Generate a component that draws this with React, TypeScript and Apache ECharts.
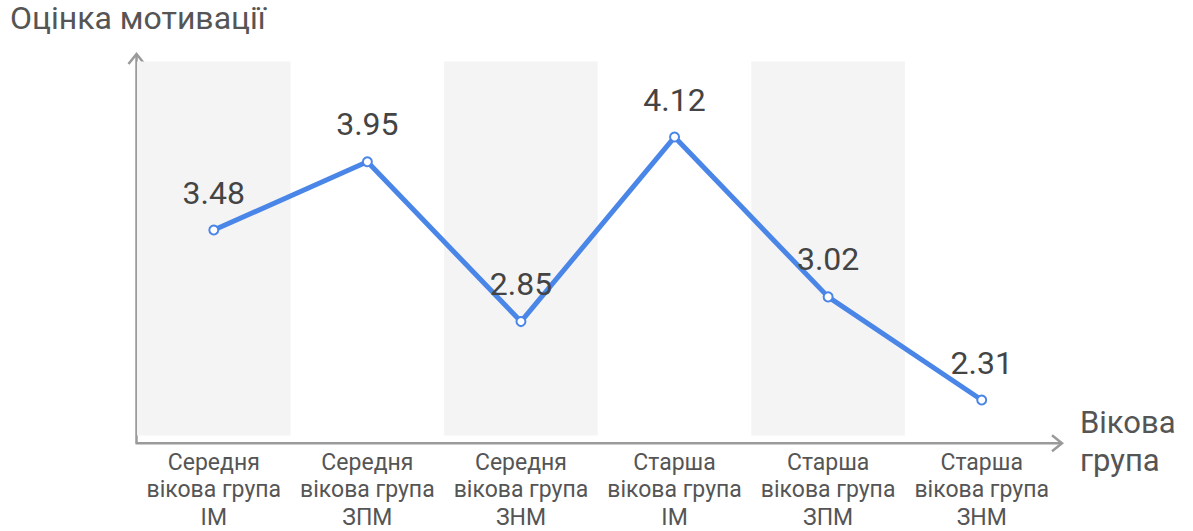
import React, { useEffect, useRef } from "react";
import * as echarts from "echarts";

const categories = [
  "Середня\nвікова група\nІМ",
  "Середня\nвікова група\nЗПМ",
  "Середня\nвікова група\nЗНМ",
  "Старша\nвікова група\nІМ",
  "Старша\nвікова група\nЗПМ",
  "Старша\nвікова група\nЗНМ",
];
const motivationScores = [3.48, 3.95, 2.85, 4.12, 3.02, 2.31];
const yAxisTitle = "Оцінка мотивації";
const xAxisTitle = "Вікова\nгрупа";

export default function App() {
  const ref = useRef<HTMLDivElement>(null);
  useEffect(() => {
    document.body.style.margin = "0";
    if (!ref.current) return;
    const chart = echarts.init(ref.current, undefined, { renderer: "svg" });
    const font = "Roboto, 'Noto Sans', sans-serif";
    const axisColor = "#9a9a9a";
    chart.setOption({
      animation: false,
      textStyle: { fontFamily: font },
      grid: { left: 137, top: 61.5, right: 134.5, bottom: 89, containLabel: false },
      xAxis: {
        type: "category",
        data: categories,
        boundaryGap: true,
        axisLine: { show: false },
        axisTick: { show: false },
        splitArea: { show: true, areaStyle: { color: ["#f4f4f4", "rgba(255,255,255,0)"] } },
        axisLabel: {
          color: "#555",
          fontSize: 23,
          lineHeight: 27.5,
          margin: 13,
          interval: 0,
          fontFamily: font,
        },
      },
      yAxis: {
        type: "value",
        min: 2.066,
        max: 4.64,
        axisLine: { show: false },
        axisTick: { show: false },
        axisLabel: { show: false },
        splitLine: { show: false },
      },
      graphic: [
        {
          type: "text",
          left: 10,
          top: 2,
          style: { text: yAxisTitle, fontSize: 32, fill: "#555", fontFamily: font },
        },
        {
          type: "text",
          left: 1080,
          top: 403,
          style: { text: xAxisTitle, fontSize: 31, lineHeight: 38, fill: "#555", fontFamily: font },
        },
        { type: "line", shape: { x1: 136.5, y1: 443.3, x2: 136.5, y2: 54 }, style: { stroke: axisColor, lineWidth: 2.5 } },
        { type: "line", shape: { x1: 135.5, y1: 443.3, x2: 1062, y2: 443.3 }, style: { stroke: axisColor, lineWidth: 2.5 } },
        {
          type: "polyline",
          shape: { points: [[128.5, 64], [136.5, 54], [144.5, 64]] },
          style: { stroke: axisColor, lineWidth: 2.5, fill: "none" },
        },
        {
          type: "polyline",
          shape: { points: [[1052, 435.3], [1062, 443.3], [1052, 451.3]] },
          style: { stroke: axisColor, lineWidth: 2.5, fill: "none" },
        },
      ],
      series: [
        {
          type: "line",
          data: motivationScores,
          symbol: "emptyCircle",
          symbolSize: 9,
          lineStyle: { color: "#4a86e8", width: 5 },
          itemStyle: { color: "#4a86e8", borderWidth: 2.5, borderColor: "#4a86e8" },
          label: {
            show: true,
            position: "top",
            distance: 16,
            fontSize: 32,
            color: "#444",
            fontFamily: font,
          },
          z: 3,
        },
      ],
    });
    return () => chart.dispose();
  }, []);
  return <div ref={ref} style={{ width: 1193, height: 531 }} />;
}
